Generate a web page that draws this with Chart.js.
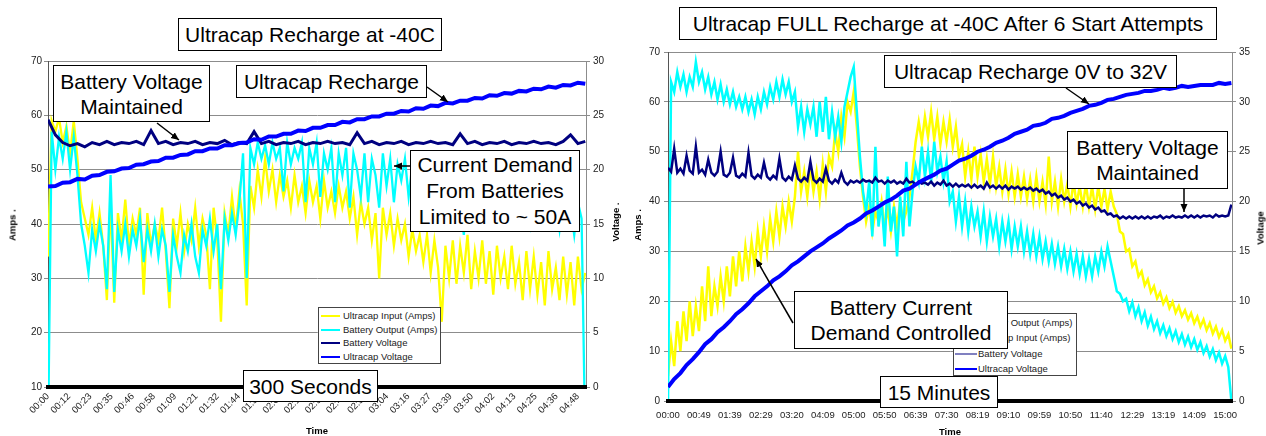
<!DOCTYPE html>
<html><head><meta charset="utf-8">
<script src="https://cdn.jsdelivr.net/npm/chart.js@4.4.0/dist/chart.umd.min.js"></script>
<style>
html,body{margin:0;padding:0;background:#fff;}
#wrap{position:relative;width:1266px;height:436px;overflow:hidden;background:#fff;font-family:"Liberation Sans",Arial,Helvetica,sans-serif;}
canvas{position:absolute;top:0;}
.box{position:absolute;box-sizing:border-box;background:#fff;border:1px solid #000;display:flex;align-items:center;justify-content:center;text-align:center;font-size:21px;line-height:25px;color:#000;white-space:nowrap;}
.leg{position:absolute;box-sizing:border-box;background:#fff;border:1px solid #444;font-size:9.5px;color:#222;}
.ax{position:absolute;font-size:9.5px;font-weight:bold;color:#000;white-space:nowrap;transform:translate(-50%,-50%);}
.rot{transform:translate(-50%,-50%) rotate(-90deg);}
</style></head>
<body><div id="wrap">
<canvas id="c1" width="630" height="436" style="left:0"></canvas>
<canvas id="c2" width="636" height="436" style="left:630px"></canvas>

<div class="ax rot" style="left:12px;top:225px">Amps .</div>
<div class="ax rot" style="left:615px;top:222px">Voltage .</div>
<div class="ax" style="left:317px;top:430px">Time</div>
<div class="ax rot" style="left:637px;top:225px">Amps .</div>
<div class="ax rot" style="left:1260px;top:228px">Voltage</div>
<div class="ax" style="left:950px;top:431px">Time</div>

<div id="leg1" class="leg" style="left:318px;top:307px;width:123px;height:57px"></div>
<div id="leg2" class="leg" style="left:953px;top:313px;width:124px;height:63px"></div>

<svg width="1266" height="436" style="position:absolute;left:0;top:0">
<defs><marker id="ah" markerWidth="9" markerHeight="8" refX="8" refY="3.5" orient="auto" markerUnits="userSpaceOnUse"><path d="M0,0 L8,3.5 L0,7 z" fill="#000"/></marker></defs>
<g stroke="#000" stroke-width="1.5" marker-end="url(#ah)">
<line x1="157" y1="123" x2="179" y2="140"/>
<line x1="427" y1="87" x2="448" y2="102"/>
<line x1="410" y1="166" x2="394" y2="166"/>
<line x1="1066" y1="88" x2="1089" y2="104"/>
<line x1="1184" y1="189" x2="1184" y2="212"/>
<line x1="793" y1="323" x2="756" y2="259"/>
</g></svg>

<div class="box" style="left:178px;top:18px;width:264px;height:33px">Ultracap Recharge at -40C</div>
<div class="box" style="left:53px;top:65px;width:157px;height:57px">Battery Voltage<br>Maintained</div>
<div class="box" style="left:236px;top:65px;width:191px;height:33px">Ultracap Recharge</div>
<div class="box" style="left:410px;top:150px;width:170px;height:82px;line-height:26px">Current Demand<br>From Batteries<br>Limited to ~ 50A</div>
<div class="box" style="left:243px;top:370px;width:135px;height:32px">300 Seconds</div>
<div class="box" style="left:679px;top:7px;width:538px;height:33px">Ultracap FULL Recharge at -40C After 6 Start Attempts</div>
<div class="box" style="left:884px;top:55px;width:293px;height:33px">Ultracap Recharge 0V to 32V</div>
<div class="box" style="left:1067px;top:131px;width:161px;height:58px">Battery Voltage<br>Maintained</div>
<div class="box" style="left:794px;top:291px;width:214px;height:58px">Battery Current<br>Demand Controlled</div>
<div class="box" style="left:880px;top:376px;width:118px;height:32px">15 Minutes</div>
</div>
<script>
// ---------------- LEFT CHART: 300 seconds ----------------
const LEFT_X_LABELS = ['00:00','00:12','00:23','00:35','00:46','00:58','01:09','01:21','01:32','01:44','01:55','02:07','02:18','02:30','02:41','02:53','03:04','03:16','03:27','03:39','03:50','04:02','04:13','04:25','04:36','04:48'];
const LEFT_X_TICK_STEP = 11.52;   // seconds between time labels
const LEFT_X_MAX = 292.4;         // seconds
const LEFT_FAST_STEP = 2;         // sample interval (s) of current series
const LEFT_SLOW_STEP = 4;         // sample interval (s) of voltage series

const LEFT_ULTRACAP_INPUT = [ // Amps
34,59,57,59.5,55,58,53,59,52,44,
41,38,43,37,42,36,26,44,25.5,42,
37,44.5,36,41,38,43,27,42,36,40,
37,43,35,24.5,41,36,42,35,40,37,
43,36,41,38,28,43,37,22,42,38,
45,39,46,40,25,47,43,50,45,52,
46,50,44,49,45,48,43,49,44,47,
42,48,44,47,41,48,43,46,42,47,
43,46,41,45,38,44,40,43,37,42,
30,43,38,42,36,41,37,40,34,39,
35,38,33,38,31,37,32,22,36,30,
37,29,36,31,38,28,35,30,37,29,
35,27,36,30,34,28,36,29,33,26,
35,28,34,27,33,25,35,28,32,26,
34,27,33,25,34,28,31];
const LEFT_BATTERY_OUTPUT = [ // Amps
0,57,50,56,52,57,50,56,49,40,
36,31,39,35,40,36,28,49,27.5,39,
35,40,34,39,36,41,33,39,35,40,
34,39,36,27.5,38,34,31,38,35,40,
34,31,39,36,41,35,40,28,41,37,
42,38,44,53,30,54,51,55,52,54.5,
51,55,52,54,46,55,51,54,52,55,
44,54,51,55,45,53,50,54,44,53,
49,54,43,53,50,45,53,44,52,49,
43,53,47,52,44,51,48,52,45,51,
47,50,44,49,46,50,43,48,45,49,
42,48,44,38,47,39,46,43,48,42,
47,43,46,41,47,42,45,41,46,42,
45,40,46,41,44,40,45,41,44,39,
45,40,43,38,44,41,0];
const LEFT_BATTERY_VOLTAGE = [ // Volts
24.6,23.2,22.5,22.2,22.4,22.1,22.5,22.3,22.6,22.3,
22.5,22.4,22.6,22.3,23.6,22.4,22.6,22.3,22.5,22.4,
22.6,22.3,22.5,22.4,22.7,22.3,22.5,22.4,23.5,22.4,
22.6,22.3,22.5,22.4,22.6,22.3,22.5,22.4,22.6,22.4,
22.5,22.3,23.4,22.4,22.6,22.3,22.5,22.4,22.6,22.3,
22.5,22.4,22.6,22.4,22.5,22.3,23.3,22.4,22.6,22.3,
22.5,22.4,22.6,22.3,22.5,22.4,22.6,22.4,22.5,22.3,
22.6,23.2,22.4,22.6];
const LEFT_ULTRACAP_VOLTAGE = [ // Volts
18.45,18.5,18.8,18.85,19.15,19.1,19.45,19.5,19.8,19.85,
20.1,20.15,20.45,20.5,20.75,20.8,21.1,21.1,21.35,21.4,
21.7,21.7,21.95,21.95,22.25,22.25,22.45,22.5,22.8,22.75,
23.05,23.05,23.3,23.3,23.6,23.55,23.85,23.85,24.1,24.1,
24.4,24.35,24.65,24.65,24.9,24.9,25.15,25.15,25.4,25.35,
25.65,25.6,25.9,25.85,26.15,26.1,26.35,26.35,26.6,26.55,
26.85,26.8,27.05,27.0,27.25,27.2,27.45,27.4,27.65,27.55,
27.8,27.75,28.0,27.9];

// ---------------- RIGHT CHART: 15 minutes ----------------
const RIGHT_X_LABELS = ['00:00','00:49','01:39','02:29','03:20','04:09','05:00','05:50','06:39','07:30','08:19','09:10','09:59','10:50','11:40','12:29','13:19','14:09','15:00'];
const RIGHT_X_TICK_STEP = 50;
const RIGHT_X_MAX = 911;
const RIGHT_FAST_STEP = 5;
const RIGHT_SLOW_STEP = 10;

const RIGHT_BATTERY_OUTPUT = [ // Amps
0,64,62,66,63,65.5,62,65,63,68,
64,66,62.5,65,61.5,64,60.5,63.5,60,62.5,
59.5,62,59,61,58.5,61,58,60.5,57.5,61,
58.5,62,59.5,63,60.5,64,61,64.5,61.5,64,
60,62,55,59,54,58.5,55.5,59,53,60,
54,61,52.5,58,53,57,52,59,62,65,
67,58,49,42,38,44,33,51,35,40,
31,45,34,39,29,41,33,48,35,42,
47,44,51,45,50,44,52,46,49,44,
48,40,42,36,41,35,40,34,39,35,
38,33,38,32,37,33,36.5,31,36,32,
36,30.5,35,31,35,30,34,29.5,33.5,29,
33,28.5,32,28,31.5,27.5,31,27,30.5,26.5,
30,26,29.5,25.5,29,25,28.5,25,29,26,
30,27,31,28,25,22,21.5,20,20.5,18,
19.8,17,18.8,16,17.8,15.1,16.9,14.4,16,13.6,
15.2,13,14.6,12.4,14,11.8,13.4,11.3,12.9,10.8,
12.4,10.3,11.8,9.6,11,8.9,10.4,8.2,9.7,7.5,
9,6.8,0];
const RIGHT_ULTRACAP_INPUT = [ // Amps
5,12,7,16,10,18,12,20,13,19,
14,23,16,27,17,23,19,25,20,27,
21,29,23,30,24,31,26,32,27,34,
29,35,30,36.5,32,38,33,39,35,40,
36,41,50,42,46,41,47,42,46,40.5,
47.5,42,49,47,54,50,57,53,60,58,
62,55,47,41,36,39,34,38,36,40,
35,38.5,34,39,35,40,36,38,41,46,
52,56,52,57,53,58,52.5,57,51.5,56,
52,56.5,51,55,49,51.5,45,50,44.5,51,
45,49.5,44,48.5,43.5,49,43,47,42,46.5,
41.5,46,41,45.5,41,45,40.5,44.5,40,45,
40,44,39.5,49,40,44,39,44.5,40,43.5,
39,44,39.5,43,39,43.5,39,43,38.5,43,
39,42.5,38.5,42,39,37.5,34,33.5,30,30.5,
27,28,25,26,23.2,24.4,21.8,23,20.6,21.8,
19.5,20.8,18.6,19.9,17.7,19,17,18.2,16.3,17.6,
15.6,16.9,14.9,16.3,14.2,15.6,13.5,14.9,12.8,14.2,
12.1,13.4,10.5];
const RIGHT_BATTERY_VOLTAGE = [ // Volts
23.4,23.0,25.3,22.9,23.3,22.8,24.6,23.1,22.8,25.5,
22.9,23.2,22.7,24.2,22.9,22.6,23.0,25.0,22.7,22.5,
22.9,24.4,22.6,22.4,22.8,22.5,24.9,22.6,22.3,22.7,
22.4,23.9,22.5,22.2,22.6,22.3,24.3,22.4,22.1,22.5,
22.2,23.6,22.3,22.0,22.4,22.1,24.0,22.2,21.9,22.3,
22.0,23.3,22.1,21.8,22.2,21.9,22.9,22.0,21.7,22.1,
21.9,22.1,21.9,22.2,22.0,22.1,21.9,22.4,22.0,22.1,
21.8,22.1,21.9,22.1,21.8,22.0,21.8,22.3,21.9,22.0,
21.7,22.0,21.8,21.9,21.7,22.0,21.6,21.9,21.7,22.1,
21.6,21.8,21.5,21.8,21.5,21.7,21.5,21.7,21.4,21.7,
21.4,21.6,21.3,21.9,21.4,21.6,21.3,21.6,21.3,21.6,
21.2,21.5,21.3,21.5,21.2,21.4,21.2,21.4,21.1,21.3,
21.0,21.2,20.8,21.0,20.6,20.8,20.4,20.6,20.2,20.4,
20.0,20.2,19.8,20.0,19.6,19.8,19.4,19.6,19.2,19.4,
19.0,19.1,18.7,18.8,18.5,18.6,18.3,18.5,18.3,18.5,
18.3,18.5,18.3,18.5,18.3,18.5,18.3,18.5,18.4,18.6,
18.3,18.5,18.4,18.6,18.4,18.5,18.4,18.6,18.4,18.6,
18.4,18.6,18.4,18.6,18.5,18.6,18.4,18.7,18.5,18.6,
18.5,18.6,19.7];
const RIGHT_ULTRACAP_VOLTAGE = [ // Volts
1.4,2.2,2.8,3.6,4.2,4.9,5.7,6.2,6.9,7.4,
8.0,8.7,9.2,9.8,10.5,11.0,11.5,12.1,12.5,13.0,
13.6,14.0,14.5,15.0,15.4,15.8,16.3,16.7,17.1,17.6,
17.9,18.3,18.8,19.1,19.5,19.9,20.2,20.6,21.1,21.3,
21.7,22.1,22.4,22.7,23.1,23.3,23.7,24.1,24.3,24.6,
25.0,25.2,25.5,25.9,26.1,26.4,26.8,27.0,27.2,27.6,
27.7,27.9,28.3,28.4,28.6,28.9,29.1,29.3,29.6,29.7,
29.9,30.2,30.3,30.5,30.7,30.8,30.9,31.1,31.1,31.2,
31.4,31.3,31.4,31.6,31.5,31.6,31.7,31.7,31.7,31.9,
31.8,31.9];

const YELLOW = '#ffff00', CYAN = '#00ffff', NAVY = '#000080', BLUE = '#0000ff';
const FONT = '"Liberation Sans", Arial, Helvetica, sans-serif';

function pts(values, step) { return values.map((v, i) => ({ x: i * step, y: v })); }

function build(id, cfg) {
  const datasets = cfg.series.map(s => ({
    label: s.label, data: pts(s.values, s.step), yAxisID: s.axis,
    borderColor: s.color, backgroundColor: s.color, borderWidth: s.width,
    pointRadius: 0, pointHoverRadius: 0, tension: 0, fill: false, order: s.order
  }));
  return new Chart(document.getElementById(id).getContext('2d'), {
    type: 'line',
    data: { datasets },
    options: {
      responsive: false, animation: false, events: [],
      layout: { padding: { top: cfg.top, left: 0, right: 0, bottom: 0 } },
      plugins: { legend: { display: false }, tooltip: { enabled: false }, title: { display: false } },
      scales: {
        x: {
          type: 'linear', position: 'bottom', min: 0, max: cfg.xMax,
          afterBuildTicks: s => { s.ticks = cfg.xLabels.map((_, i) => ({ value: i * cfg.xStep })); },
          ticks: { autoSkip: false, maxRotation: cfg.rot, minRotation: cfg.rot, padding: cfg.xPad,
                   color: '#222', font: { family: FONT, size: 9.5 }, callback: (v, i) => cfg.xLabels[i] },
          grid: { display: false, drawTicks: false },
          border: { display: true, color: '#000', width: 4, z: 1 },
          afterFit: s => { s.height = cfg.xH; }
        },
        y: {
          position: 'left', min: cfg.aMin, max: cfg.aMax,
          ticks: { stepSize: 10, padding: cfg.yPad, color: '#222', font: { family: FONT, size: 10 } },
          grid: { color: '#8c8c8c', lineWidth: 1, tickLength: 4 },
          border: { display: true, color: '#555', width: 1 },
          afterFit: s => { s.width = cfg.yW; }
        },
        y1: {
          position: 'right', min: 0, max: cfg.vMax,
          ticks: { stepSize: 5, padding: 3, color: '#222', font: { family: FONT, size: 10 } },
          grid: { drawOnChartArea: false, color: '#8c8c8c', tickLength: 4 },
          border: { display: true, color: '#8c8c8c', width: 1 },
          afterFit: s => { s.width = cfg.y1W; }
        }
      }
    }
  });
}

build('c1', {
  top: 61, xH: 49, yW: 48, y1W: 44, yPad: 2, xPad: 4, rot: 45,
  aMin: 10, aMax: 70, vMax: 30,
  xMax: LEFT_X_MAX, xStep: LEFT_X_TICK_STEP, xLabels: LEFT_X_LABELS,
  series: [
    { label: 'Ultracap Input (Amps)', values: LEFT_ULTRACAP_INPUT, step: LEFT_FAST_STEP, axis: 'y', color: YELLOW, width: 2.3, order: 3 },
    { label: 'Battery Output (Amps)', values: LEFT_BATTERY_OUTPUT, step: LEFT_FAST_STEP, axis: 'y', color: CYAN, width: 2.3, order: 2 },
    { label: 'Battery Voltage', values: LEFT_BATTERY_VOLTAGE, step: LEFT_SLOW_STEP, axis: 'y1', color: NAVY, width: 3, order: 1 },
    { label: 'Ultracap Voltage', values: LEFT_ULTRACAP_VOLTAGE, step: LEFT_SLOW_STEP, axis: 'y1', color: BLUE, width: 4, order: 0 }
  ]
});

build('c2', {
  top: 52, xH: 35, yW: 38, y1W: 34, yPad: 4, xPad: 9, rot: 0,
  aMin: 0, aMax: 70, vMax: 35,
  xMax: RIGHT_X_MAX, xStep: RIGHT_X_TICK_STEP, xLabels: RIGHT_X_LABELS,
  series: [
    { label: 'Battery Output (Amps)', values: RIGHT_BATTERY_OUTPUT, step: RIGHT_FAST_STEP, axis: 'y', color: CYAN, width: 2.5, order: 2 },
    { label: 'Ultracap Input (Amps)', values: RIGHT_ULTRACAP_INPUT, step: RIGHT_FAST_STEP, axis: 'y', color: YELLOW, width: 2.5, order: 3 },
    { label: 'Battery Voltage', values: RIGHT_BATTERY_VOLTAGE, step: RIGHT_FAST_STEP, axis: 'y1', color: NAVY, width: 2.5, order: 1 },
    { label: 'Ultracap Voltage', values: RIGHT_ULTRACAP_VOLTAGE, step: RIGHT_SLOW_STEP, axis: 'y1', color: BLUE, width: 4, order: 0 }
  ]
});

function legend(id, items, firstRow, gap, x0, x1, tx) {
  const box = document.getElementById(id);
  items.forEach((it, i) => {
    const cy = firstRow + i * gap;
    const ln = document.createElement('div');
    ln.style.cssText = `position:absolute;left:${x0}px;width:${x1 - x0}px;top:${cy - it.w / 2}px;height:${it.w}px;background:${it.color}`;
    const t = document.createElement('div');
    t.textContent = it.label;
    t.style.cssText = `position:absolute;left:${tx}px;top:${cy - 6}px;line-height:12px;white-space:nowrap`;
    box.append(ln, t);
  });
}
legend('leg1', [
  { label: 'Ultracap Input (Amps)', color: YELLOW, w: 2 },
  { label: 'Battery Output (Amps)', color: CYAN, w: 2 },
  { label: 'Battery Voltage', color: NAVY, w: 2 },
  { label: 'Ultracap Voltage', color: BLUE, w: 2 }
], 8, 13.7, 2, 21, 24);
legend('leg2', [
  { label: 'Battery Output (Amps)', color: CYAN, w: 2 },
  { label: 'Ultracap Input (Amps)', color: YELLOW, w: 2 },
  { label: 'Battery Voltage', color: '#8080c0', w: 2 },
  { label: 'Ultracap Voltage', color: BLUE, w: 1.5 }
], 9, 15.3, 1, 23, 24);
</script>
</body></html>
